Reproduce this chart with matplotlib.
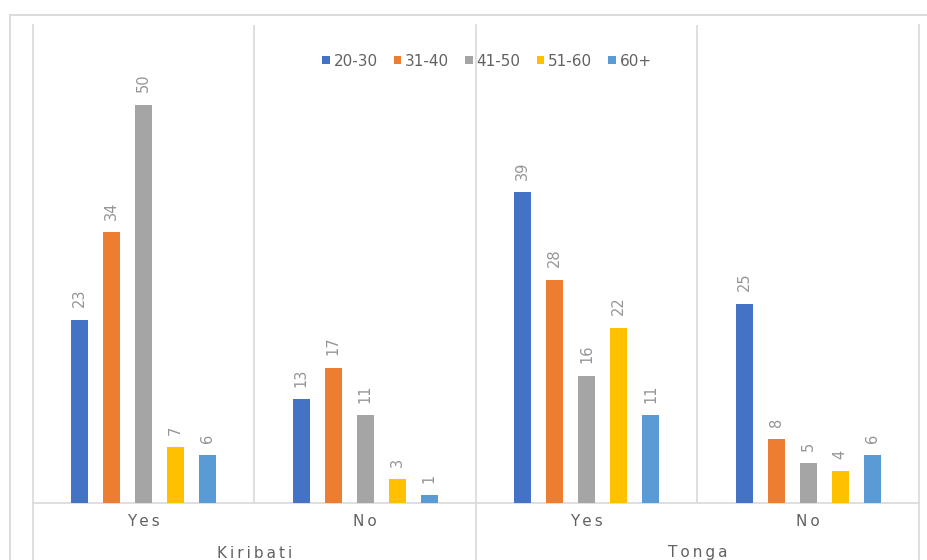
import matplotlib.pyplot as plt
from matplotlib.lines import Line2D
import numpy as np

# survey counts by age band, per country and answer
countries = ["Kiribati", "Tonga"]
answers = ["Yes", "No"]
age_bands = ["20-30", "31-40", "41-50", "51-60", "60+"]
colors = ["#4472C4", "#ED7D31", "#A5A5A5", "#FFC000", "#5B9BD5"]

kiribati_yes = [23, 34, 50, 7, 6]
kiribati_no = [13, 17, 11, 3, 1]
tonga_yes = [39, 28, 16, 22, 11]
tonga_no = [25, 8, 5, 4, 6]

groups = [kiribati_yes, kiribati_no, tonga_yes, tonga_no]
values = np.array(groups).T  # rows: age band, cols: group

W, H = 928, 560
fig = plt.figure(figsize=(W / 100, H / 100), dpi=100)
fig.patch.set_facecolor("white")

left, right, top, base = 33, 919, 25, 503
ax = fig.add_axes([left / W, 1 - base / H, (right - left) / W, (base - top) / H])
ax.set_xlim(0, len(groups))
ax.set_ylim(0, 60)
ax.axis("off")

grid_c = "#D9D9D9"
text_c = "#626262"
label_c = "#959595"

step = 0.1443
width = 0.0767
centers = np.arange(len(groups)) + 0.5

for i, band in enumerate(age_bands):
    xs = centers + (i - 2) * step
    ax.bar(xs, values[i], width=width, color=colors[i], label=band, zorder=3)
    for x, v in zip(xs, values[i]):
        ax.annotate(str(v), (x, v), xytext=(0, 9), textcoords="offset points",
                    rotation=90, ha="center", va="bottom", fontsize=10.5, color=label_c)

# baseline and category separators
ax.plot([0, len(groups)], [0, 0], color=grid_c, lw=1.2, zorder=2, clip_on=False)
for xb in [1, 3]:
    ax.plot([xb, xb], [0, 60], color=grid_c, lw=1.2, zorder=1)
bottom_frac = -(H - base) / (base - top)
for xb in [0, 2, 4]:
    ax.plot([xb, xb], [bottom_frac, 1], color=grid_c, lw=1.2, zorder=1,
            transform=ax.get_xaxis_transform(), clip_on=False)


def spaced(s):
    return "\u2009".join(s)


def px_to_axes(y):
    return -(y - base) / (base - top)


for c, a in zip(centers, answers * 2):
    ax.text(c, px_to_axes(522), spaced(a), transform=ax.get_xaxis_transform(),
            ha="center", va="center", fontsize=11, color=text_c)
for k, name in enumerate(countries):
    ax.text(2 * k + 1, px_to_axes(553), spaced(name), transform=ax.get_xaxis_transform(),
            ha="center", va="center", fontsize=11, color=text_c)

leg = ax.legend(loc="center", bbox_to_anchor=((487 - left) / (right - left), px_to_axes(61)),
                ncol=5, frameon=False, fontsize=11, handlelength=0.5, handleheight=0.5,
                handletextpad=0.25, columnspacing=1.05, borderpad=0)
for t in leg.get_texts():
    t.set_color(text_c)

# outer chart frame
fig.add_artist(Line2D([10 / W, 1], [1 - 15 / H, 1 - 15 / H], color=grid_c, lw=1.3))
fig.add_artist(Line2D([10 / W, 10 / W], [0, 1 - 15 / H], color=grid_c, lw=1.3))

fig.savefig("out.png", dpi=100)
